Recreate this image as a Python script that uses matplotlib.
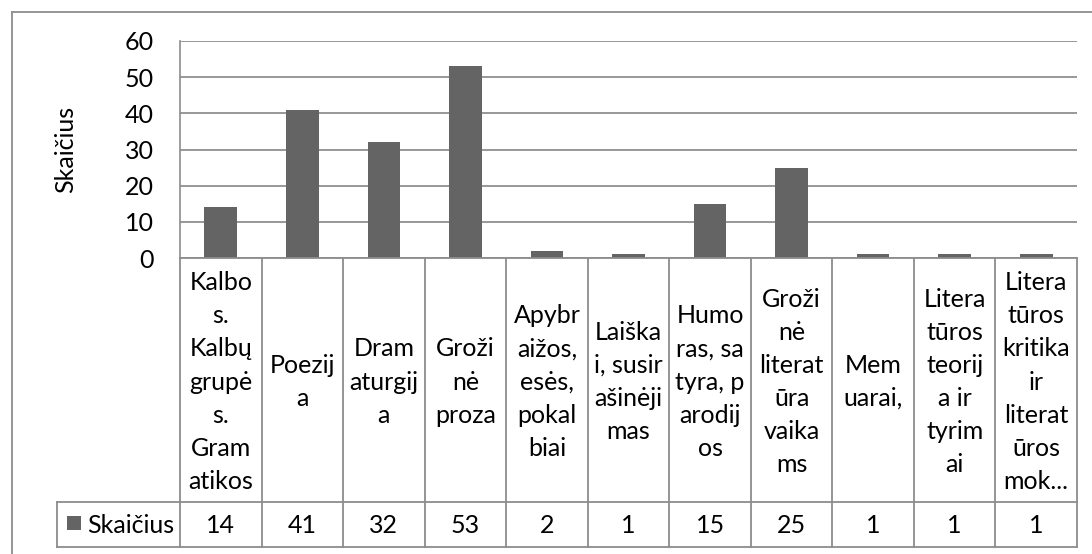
import matplotlib
matplotlib.use("Agg")
import matplotlib.pyplot as plt
from matplotlib.patches import Rectangle

plt.rcParams['font.family'] = ['Lato', 'DejaVu Sans']

categories = [
    "Kalbo\ns.\nKalbų\ngrupė\ns.\nGram\natikos",
    "Poezij\na",
    "Dram\naturgij\na",
    "Groži\nnė\nproza",
    "Apybr\naižos,\nesės,\npokal\nbiai",
    "Laiška\ni, susir\našinėji\nmas",
    "Humo\nras, sa\ntyra, p\narodij\nos",
    "Groži\nnė\nliterat\nūra\nvaika\nms",
    "Mem\nuarai,",
    "Litera\ntūros\nteorij\na ir\ntyrim\nai",
    "Litera\ntūros\nkritika\nir\nliterat\nūros\nmok...",
]
values = [14, 41, 32, 53, 2, 1, 15, 25, 1, 1, 1]
series_name = "Skaičius"
yticks = [0, 10, 20, 30, 40, 50, 60]

W, H = 1092, 554
fig = plt.figure(figsize=(W / 100, H / 100), dpi=100)
fig.patch.set_facecolor('white')

# pixel geometry
L, R, T, B = 180, 1077, 41, 258
row1_bot = 502
row2_bot = 547
leg_left = 57

BAR = '#646464'
GRID = '#868686'
LINE = '#8c8c8c'
TXT = '#000000'
FS = 18

ax = fig.add_axes([L / W, 1 - B / H, (R - L) / W, (B - T) / H])
n = len(values)
x = list(range(n))
ax.bar(x, values, width=0.4, color=BAR, zorder=3)
ax.set_xlim(-0.5, n - 0.5)
ax.set_ylim(0, 60)
ax.set_yticks(yticks)
ax.set_yticklabels([str(t) for t in yticks], fontsize=FS, color=TXT)
ax.set_xticks([])
ax.tick_params(axis='y', length=0, pad=19)
for s in ['top', 'right', 'bottom']:
    ax.spines[s].set_visible(False)
ax.spines['left'].set_color(LINE)
ax.spines['left'].set_linewidth(1.2)
ax.grid(axis='y', color=GRID, linewidth=1.2, zorder=0)
ax.set_ylabel(series_name, fontsize=FS, color=TXT, labelpad=34)

# overlay in pixel coordinates for table and frame
ov = fig.add_axes([0, 0, 1, 1], zorder=5)
ov.set_xlim(0, W)
ov.set_ylim(H, 0)
ov.axis('off')
ov.patch.set_alpha(0)

# outer frame
ov.plot([11.5, 11.5], [11.5, H], color=LINE, lw=1.3)
ov.plot([11.5, W], [11.5, 11.5], color=LINE, lw=1.3)

colw = (R - L) / n
lw = 1.3
ov.plot([L, R], [B, B], color=LINE, lw=lw)
ov.plot([leg_left, R], [row1_bot, row1_bot], color=LINE, lw=lw)
ov.plot([leg_left, R], [row2_bot, row2_bot], color=LINE, lw=lw)
ov.plot([leg_left, leg_left], [row1_bot, row2_bot], color=LINE, lw=lw)
for i in range(n + 1):
    xx = L + i * colw
    ov.plot([xx, xx], [B, row2_bot], color=LINE, lw=lw)

for i, (c, v) in enumerate(zip(categories, values)):
    cx = L + (i + 0.5) * colw
    ov.text(cx, (B + row1_bot) / 2 + 2, c, ha='center', va='center',
            fontsize=FS, color=TXT, linespacing=1.53, multialignment='center')
    ov.text(cx, (row1_bot + row2_bot) / 2 + 1, str(v), ha='center', va='center',
            fontsize=FS, color=TXT)

# legend key
ov.add_patch(Rectangle((67, 516), 14, 14, facecolor=BAR, edgecolor='none'))
ov.text(87, (row1_bot + row2_bot) / 2 + 1, series_name, ha='left', va='center',
        fontsize=FS, color=TXT)

fig.savefig('out.png', dpi=100, facecolor='white')
